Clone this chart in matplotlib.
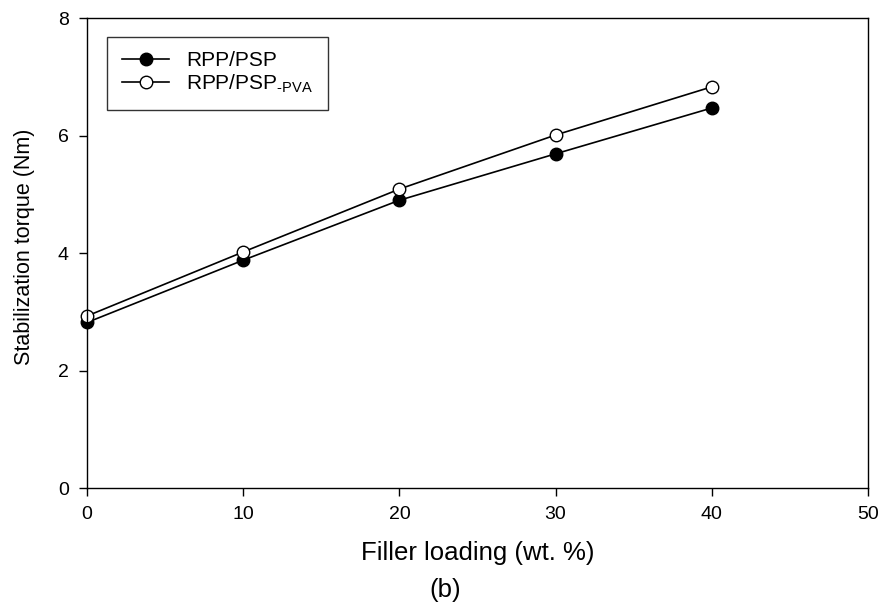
import matplotlib
matplotlib.use("Agg")
import matplotlib.pyplot as plt

plt.rcParams['font.family'] = ['Liberation Sans', 'DejaVu Sans']

loading = [0, 10, 20, 30, 40]
torque_psp = [2.82, 3.88, 4.90, 5.69, 6.47]
torque_pva = [2.93, 4.02, 5.09, 6.01, 6.83]

fig = plt.figure(figsize=(8.83, 6.02), dpi=100)
ax = fig.add_axes([0.0985, 0.189, 0.8845, 0.781])

ax.plot(loading, torque_psp, '-o', color='black', mfc='black', mec='black',
        ms=9, lw=1.2, label='RPP/PSP', clip_on=False)
ax.plot(loading, torque_pva, '-o', color='black', mfc='white', mec='black',
        ms=9, lw=1.2, label='RPP/PSP$_{\\mathregular{\u2010PVA}}$', clip_on=False)

ax.set_xlim(0, 50)
ax.set_ylim(0, 8)
ax.set_xticks(range(0, 51, 10))
ax.set_yticks(range(0, 9, 2))
ax.tick_params(direction='out', length=6, width=1, labelsize=14, pad=7)
for s in ax.spines.values():
    s.set_linewidth(1)

ax.set_xlabel('Filler loading (wt. %)', fontsize=18.5, labelpad=13)
ax.set_ylabel('Stabilization torque (Nm)', fontsize=15.5)
ax.yaxis.set_label_coords(-0.066, 0.514)

leg = ax.legend(loc='upper left', bbox_to_anchor=(0.0256, 0.96), fontsize=15,
                frameon=True, fancybox=False, edgecolor='black',
                handlelength=2.3, borderpad=0.7, labelspacing=0.1,
                borderaxespad=0)
leg.get_frame().set_linewidth(1)

fig.text(0.504, 0.02, '(b)', ha='center', va='center', fontsize=18.5)

fig.savefig('out.png', dpi=100)
